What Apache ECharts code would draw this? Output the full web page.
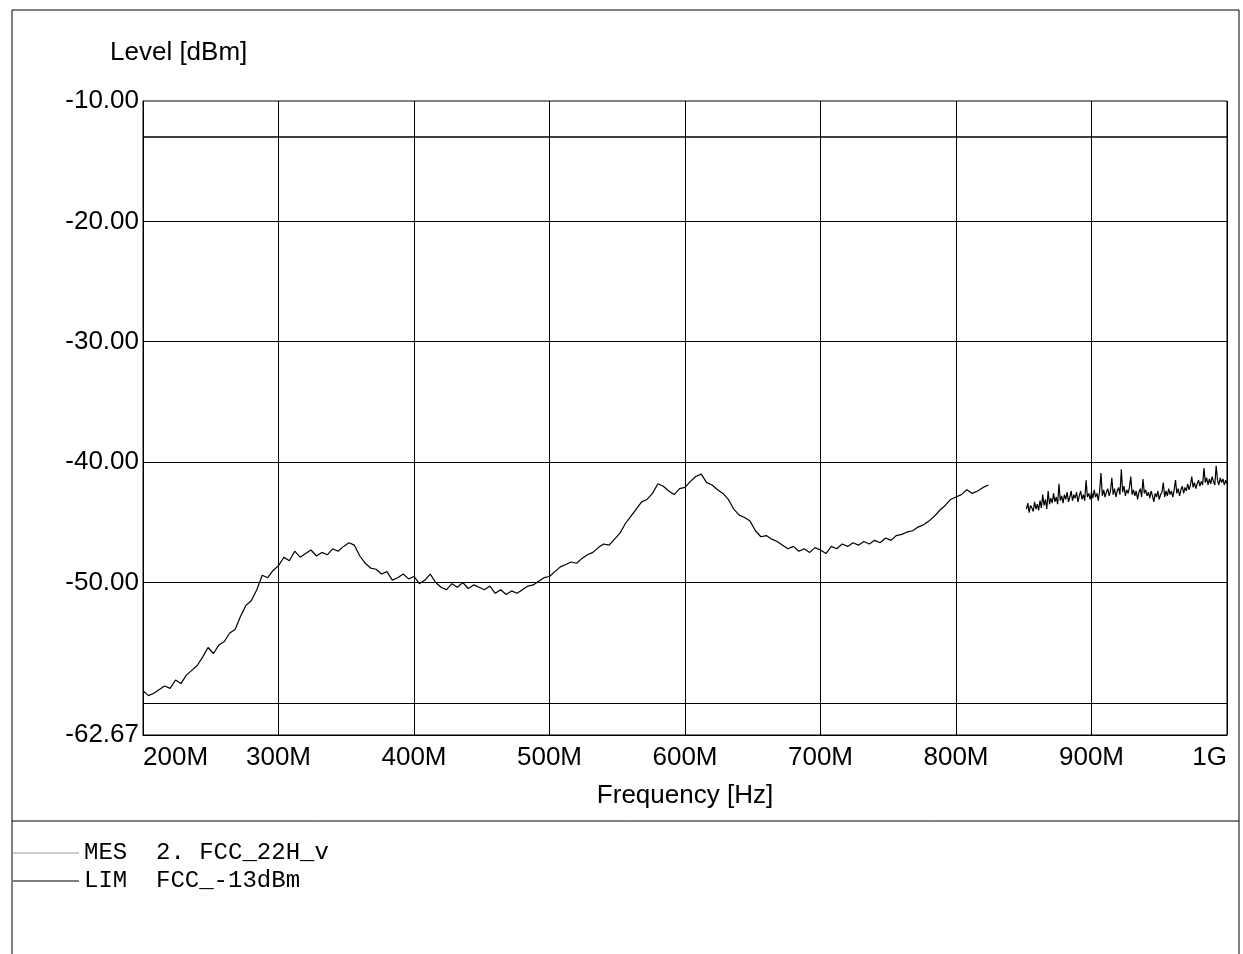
<!DOCTYPE html>
<html>
<head>
<meta charset="utf-8">
<style>
  html, body { margin: 0; padding: 0; background: #fff; }
  #chart { width: 1243px; height: 954px; }
</style>
<script src="https://cdn.jsdelivr.net/npm/echarts@6/dist/echarts.min.js"></script>
</head>
<body>
<div id="chart"></div>
<script>
// measurement trace, first sweep part (MHz start / step, dBm levels)
const seg1Start = 200;
const seg1Step = 4;
const seg1Level = [
  -59.0, -59.4, -59.2, -58.9, -58.6, -58.8, -58.1, -58.4, -57.7, -57.3,
  -56.9, -56.2, -55.4, -55.9, -55.2, -54.9, -54.2, -53.9, -52.8, -51.9,
  -51.5, -50.6, -49.4, -49.6, -49.0, -48.6, -47.9, -48.2, -47.4, -47.9,
  -47.6, -47.3, -47.8, -47.5, -47.7, -47.2, -47.4, -47.0, -46.7, -46.9,
  -47.8, -48.4, -48.8, -48.9, -49.3, -49.1, -49.8, -49.6, -49.3, -49.7,
  -49.5, -50.1, -49.8, -49.3, -50.0, -50.4, -50.6, -50.1, -50.4, -50.0,
  -50.5, -50.2, -50.4, -50.6, -50.3, -50.9, -50.6, -51.0, -50.7, -50.9,
  -50.6, -50.3, -50.2, -49.9, -49.6, -49.5, -49.1, -48.7, -48.5, -48.3,
  -48.4, -48.0, -47.7, -47.5, -47.1, -46.8, -46.9, -46.4, -45.9, -45.1,
  -44.5, -43.9, -43.3, -43.1, -42.6, -41.8, -42.0, -42.4, -42.7, -42.2,
  -42.1, -41.6, -41.2, -41.0, -41.7, -41.9, -42.3, -42.6, -43.1, -43.9,
  -44.4, -44.6, -44.9, -45.7, -46.2, -46.1, -46.4, -46.6, -46.9, -47.2,
  -47.0, -47.4, -47.2, -47.5, -47.1, -47.3, -47.6, -47.0, -47.2, -46.8,
  -47.0, -46.7, -46.9, -46.6, -46.8, -46.5, -46.7, -46.3, -46.5, -46.1,
  -46.0, -45.8, -45.7, -45.4, -45.2, -44.9, -44.5, -44.0, -43.6, -43.1,
  -42.9, -42.7, -42.3, -42.6, -42.4, -42.1, -41.9
];

// second sweep part after the gap, 1 MHz steps
const seg2Start = 852;
const seg2Step = 1;
const seg2Level = [
  -43.9, -43.4, -44.2, -43.6, -43.8, -44.1, -43.3, -43.9, -43.5, -44.0,
  -43.2, -43.8, -42.7, -43.6, -43.1, -43.9, -42.4, -43.5, -43.0, -43.4,
  -42.6, -43.3, -42.9, -43.5, -41.8, -43.2, -42.8, -43.4, -42.7, -43.1,
  -42.5, -43.3, -42.9, -42.4, -43.2, -42.7, -43.0, -42.5, -43.3, -42.8,
  -42.4, -43.1, -42.7, -43.2, -41.5, -42.9, -42.6, -43.1, -42.5, -43.0,
  -42.3, -42.9, -42.6, -43.2, -42.4, -40.9, -42.8, -42.3, -42.9, -42.5,
  -42.2, -42.8, -42.4, -41.3, -42.7, -42.2, -42.9, -42.4, -42.1, -42.7,
  -40.6, -42.5, -42.0, -42.8, -42.3, -42.6, -42.1, -41.2, -42.7, -42.3,
  -42.8, -42.4, -43.1, -42.5, -42.2, -42.9, -41.4, -42.6, -42.3, -42.8,
  -42.5, -43.0, -42.4, -42.8, -43.3, -42.6, -42.9, -42.4, -43.1, -42.7,
  -42.5, -41.7, -42.9, -42.4, -42.8, -42.2, -42.7, -42.4, -42.9, -42.3,
  -41.5, -42.6, -42.2, -42.8, -42.3, -42.0, -42.6, -42.1, -42.4, -41.8,
  -42.3, -41.9, -41.2, -42.1, -41.7, -42.2, -41.8, -41.5, -42.0, -41.6,
  -41.9, -40.5, -41.7, -41.3, -41.9, -41.4, -41.8, -41.2, -41.6, -41.9,
  -40.3, -41.5, -41.9, -41.3, -41.7, -41.4, -41.9, -41.5, -41.8
];

const limitFreq = [200, 1000];
const limitLevel = [-13, -13];

const yGridValues = [-60, -50, -40, -30, -20];
const yLabelValues = [-62.67, -50, -40, -30, -20, -10];

const mesName = 'MES  2. FCC_22H_v';
const limName = 'LIM  FCC_-13dBm';

const mesData = seg1Level.map((v, i) => [seg1Start + i * seg1Step, v]);
mesData.push([838, '-']);
seg2Level.forEach((v, i) => mesData.push([seg2Start + i * seg2Step, v]));
const limData = limitFreq.map((f, i) => [f, limitLevel[i]]);

const sans = '"Liberation Sans", Arial, sans-serif';
const mono = '"Liberation Mono", "Courier New", monospace';

const chart = echarts.init(document.getElementById('chart'));
chart.setOption({
  animation: false,
  backgroundColor: '#fff',
  title: {
    text: 'Level [dBm]',
    left: 105,
    top: 35,
    textStyle: { fontFamily: sans, fontSize: 26, fontWeight: 'normal', color: '#000' }
  },
  legend: {
    orient: 'vertical',
    left: 8,
    top: 835,
    itemWidth: 66,
    itemHeight: 1,
    itemGap: 2,
    icon: 'rect',
    data: [
      { name: mesName, itemStyle: { color: '#999' } },
      { name: limName, itemStyle: { color: '#000' } }
    ],
    textStyle: { fontFamily: mono, fontSize: 24, color: '#000', lineHeight: 26 }
  },
  grid: {
    left: 143,
    right: 16,
    top: 101,
    bottom: 219,
    show: true,
    borderColor: '#000',
    borderWidth: 1
  },
  xAxis: {
    type: 'value',
    min: 200,
    max: 1000,
    interval: 100,
    name: 'Frequency [Hz]',
    nameLocation: 'middle',
    nameGap: 48,
    nameTextStyle: { fontFamily: sans, fontSize: 26, color: '#000' },
    axisLine: { lineStyle: { color: '#000' } },
    axisTick: { show: false },
    splitLine: { show: true, lineStyle: { color: '#000', width: 1 } },
    axisLabel: {
      fontFamily: sans,
      fontSize: 26,
      color: '#000',
      margin: 10,
      alignMinLabel: 'left',
      alignMaxLabel: 'right',
      formatter: v => (v >= 1000 ? '1G' : v + 'M')
    }
  },
  yAxis: {
    type: 'value',
    min: -62.67,
    max: -10,
    axisLine: { show: true, lineStyle: { color: '#000' } },
    axisTick: { show: false, customValues: yGridValues },
    splitLine: { show: true, lineStyle: { color: '#000', width: 1 } },
    axisLabel: {
      fontFamily: sans,
      fontSize: 26,
      color: '#000',
      margin: 4,
      customValues: yLabelValues,
      formatter: v => v.toFixed(2)
    }
  },
  graphic: [
    {
      type: 'rect',
      shape: { x: 12, y: 10, width: 1227, height: 960 },
      style: { fill: 'none', stroke: '#000', lineWidth: 1 },
      silent: true
    },
    {
      type: 'line',
      shape: { x1: 12, y1: 821, x2: 1239, y2: 821 },
      style: { stroke: '#000', lineWidth: 1 },
      silent: true
    }
  ],
  series: [
    {
      name: mesName,
      type: 'line',
      data: mesData,
      showSymbol: false,
      connectNulls: false,
      lineStyle: { color: '#000', width: 1.2 },
      itemStyle: { color: '#000' }
    },
    {
      name: limName,
      type: 'line',
      data: limData,
      showSymbol: false,
      lineStyle: { color: '#000', width: 1.5 },
      itemStyle: { color: '#000' }
    }
  ]
});
</script>
</body>
</html>
